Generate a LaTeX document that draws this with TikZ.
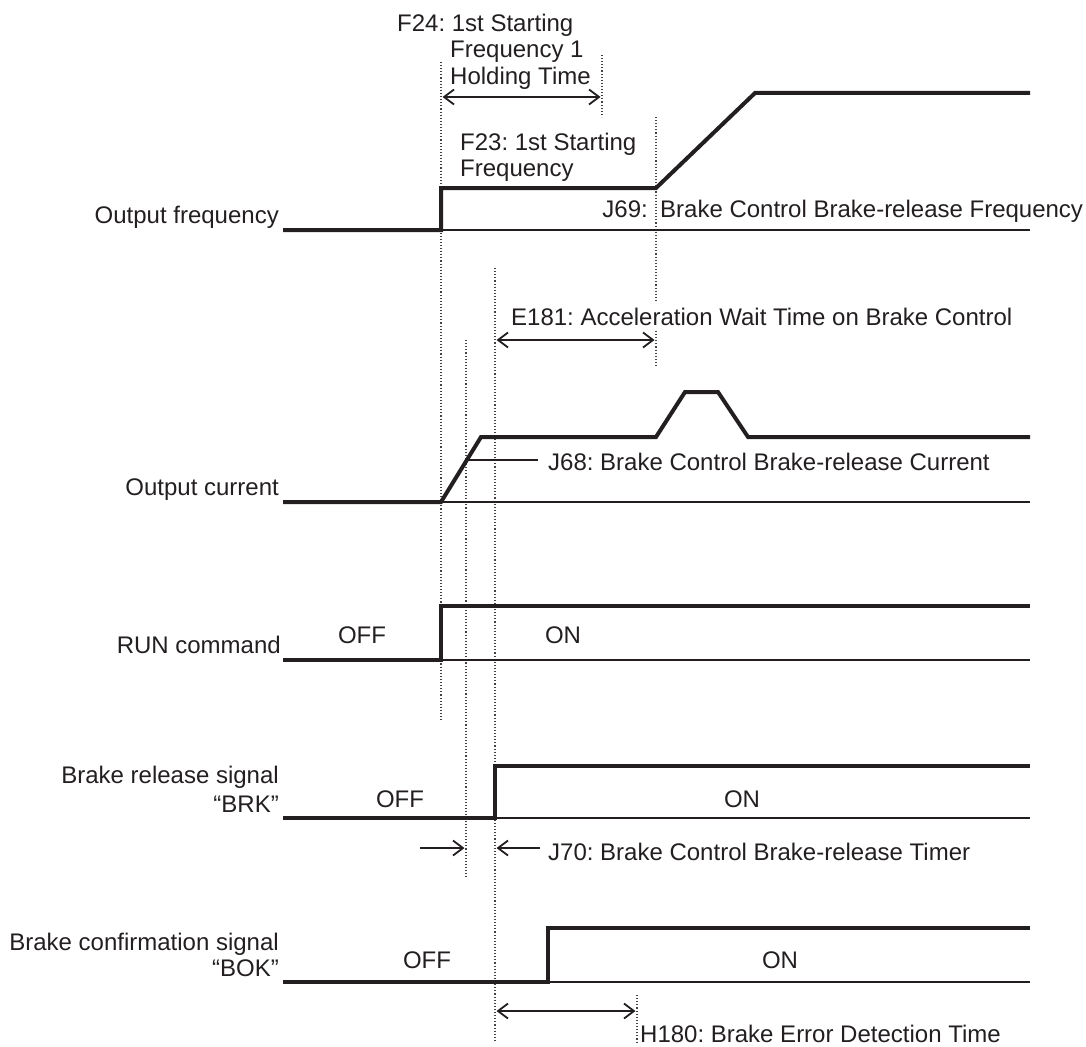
\documentclass[tikz,border=0pt]{standalone}
\usepackage{fontspec}
\setmainfont{Liberation Sans}
\usetikzlibrary{arrows.meta}
\definecolor{ink}{HTML}{231F20}
\frenchspacing
\begin{document}
\begin{tikzpicture}[x=1pt,y=-1pt,
  sig/.style={line width=4pt, draw=ink, line join=miter, line cap=butt},
  base/.style={line width=2pt, draw=ink},
  guide/.style={line width=1.1pt, draw=ink!85, dash pattern=on 1.1pt off 2pt},
  dim/.style={line width=1.8pt, draw=ink, {Straight Barb[length=10pt,width=15pt]}-{Straight Barb[length=10pt,width=15pt]}},
  dimr/.style={line width=1.8pt, draw=ink, -{Straight Barb[length=10pt,width=15pt]}},
  lbl/.style={font=\fontsize{24}{26.5}\selectfont\frenchspacing, text=ink, inner sep=0pt},
]
\useasboundingbox (0,0) rectangle (1086,1046);

% ---------- guide (dotted) lines ----------
\draw[guide] (441,62) -- (441,720);
\draw[guide] (466,340) -- (466,878);
\draw[guide] (495,268) -- (495,1042);
\draw[guide] (602,55) -- (602,117);
\draw[guide] (656,117) -- (656,367);
\draw[guide] (637,995) -- (637,1042);

% ---------- Output frequency ----------
\node[lbl, anchor=base east] (lf) at (279,223) {Output frequency};
\draw[base] (441,230) -- (1030,230);
\draw[sig] (283,230) -- (441,230) -- (441,188) -- (656,188) -- (755,93) -- (1030,93);

\node[lbl, anchor=base west] (f24a) at (397,32) {F24: 1st Starting};
\node[lbl, anchor=base west] (f24b) at (450,58) {Frequency 1};
\node[lbl, anchor=base west] (f24c) at (450,85) {Holding Time};
\draw[dim] (442.5,97) -- (600.5,97);

\node[lbl, anchor=base west] (f23a) at (460,150) {F23: 1st Starting};
\node[lbl, anchor=base west] (f23b) at (460,176) {Frequency};

\node[lbl, anchor=base east] (j69a) at (648,217) {J69:};
\node[lbl, anchor=base west] (j69b) at (660,217) {Brake Control Brake-release Frequency};

% ---------- E181 ----------
\node[lbl, anchor=base west, fill=white, inner ysep=5pt] (e181) at (511,325) {E181: Acceleration Wait Time on Brake Control};
\draw[dim] (496.5,340) -- (654.5,340);

% ---------- Output current ----------
\node[lbl, anchor=base east] (lc) at (279,495) {Output current};
\draw[base] (441,502) -- (1030,502);
\draw[sig] (283,502) -- (441,502) -- (481,437) -- (656,437) -- (685,392) -- (718,392) -- (748,437) -- (1030,437);
\coordinate (j68p) at (467,460);
\node[lbl, anchor=base west] (j68) at (548,470) {J68: Brake Control Brake-release Current};
\draw[base] (j68p) -- (538,460);

% ---------- RUN command ----------
\node[lbl, anchor=base east] (lr) at (281,653) {RUN command};
\draw[base] (441,660) -- (1030,660);
\draw[sig] (283,660) -- (441,660) -- (441,606) -- (1030,606);
\node[lbl, anchor=base] (roff) at (362,643) {OFF};
\node[lbl, anchor=base] (ron) at (563,643) {ON};

% ---------- BRK ----------
\node[lbl, anchor=base east] (lb1) at (279,783) {Brake release signal};
\node[lbl, anchor=base east] (lb2) at (279,812) {\char"201C BRK\char"201D};
\draw[base] (495,818) -- (1030,818);
\draw[sig] (283,818) -- (495,818) -- (495,766) -- (1030,766);
\node[lbl, anchor=base] (boff) at (400,807) {OFF};
\node[lbl, anchor=base] (bon) at (742,807) {ON};

\draw[dimr] (420,848) -- (464.5,848);
\draw[dimr] (540,848) -- (496.5,848);
\node[lbl, anchor=base west] (j70) at (548,860) {J70: Brake Control Brake-release Timer};

% ---------- BOK ----------
\node[lbl, anchor=base east] (lk1) at (279,950) {Brake confirmation signal};
\node[lbl, anchor=base east] (lk2) at (279,976) {\char"201C BOK\char"201D};
\draw[base] (548,982) -- (1030,982);
\draw[sig] (283,982) -- (548,982) -- (548,928) -- (1030,928);
\node[lbl, anchor=base] (koff) at (427,968) {OFF};
\node[lbl, anchor=base] (kon) at (780,968) {ON};

\draw[dim] (496.5,1011) -- (635.5,1011);
\node[lbl, anchor=base west] (h180) at (640,1042) {H180: Brake Error Detection Time};
\end{tikzpicture}
\end{document}
